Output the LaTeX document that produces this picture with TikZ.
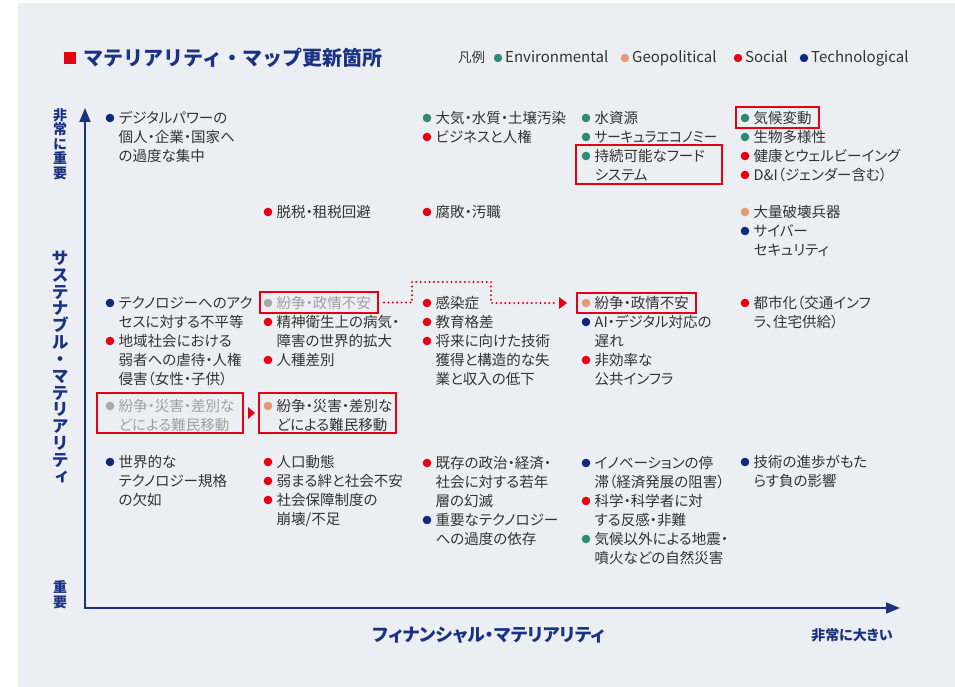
\documentclass[tikz,border=0pt]{standalone}
\usepackage{fontspec}
\usepackage{graphicx}
\setmainfont{Noto Sans CJK JP}[RawFeature=+palt]
\newfontfamily\vjp{Noto Sans CJK JP}[RawFeature=+vert]
\newfontfamily\jpfull{Noto Sans CJK JP}
\usetikzlibrary{calc,arrows.meta}
\definecolor{bgpanel}{HTML}{EBEEF2}
\definecolor{navy}{HTML}{1B3283}
\definecolor{dnavy}{HTML}{0F2A7A}
\definecolor{teal}{HTML}{2E8A73}
\definecolor{salmon}{HTML}{E39B74}
\definecolor{myred}{HTML}{E60012}
\definecolor{gdot}{HTML}{A9A9A9}
\definecolor{gtxt}{HTML}{A0A0A0}
\definecolor{txt}{HTML}{333333}
\tikzset{
  itemtext/.style={anchor=base west, inner sep=0pt, font=\fontsize{14.5}{19}\selectfont},
  redbox/.style={draw=myred, line width=2pt, inner sep=0pt, rectangle},
  reddots/.style={draw=myred, line width=2.2pt, line cap=round, dash pattern=on 0pt off 4.4pt},
  vlab/.style={anchor=base, inner sep=0pt, text=navy, font=\vjp\bfseries\fontsize{17}{17}\selectfont},
  vlabs/.style={anchor=base, inner sep=0pt, text=navy, font=\vjp\bfseries\fontsize{14}{14}\selectfont},
  axisline/.style={draw=navy, line width=1.8pt},
  legtext/.style={anchor=base west, inner sep=0pt, text=txt, font=\fontsize{15}{15}\selectfont},
}
\newcommand\mitem[6][txt]{%
  \fill[#3] (#4,#5) circle[radius=4.3pt];
  \node[itemtext, text=#1] (#2) at ({#4+8.5},{#5+5.3}) {\begin{tabular}[t]{@{}l@{}}#6\end{tabular}};%
}
\begin{document}
\begin{tikzpicture}[x=1pt,y=-1pt]
\useasboundingbox (0,0) rectangle (955,687);
\fill[white] (0,0) rectangle (955,687);
\fill[bgpanel] (18,3.5) rectangle (955,687);

% title
\fill[myred] (64,52) rectangle (76,64);
\node[anchor=base west, inner sep=0pt, text=navy, font=\jpfull\bfseries\fontsize{20}{20}\selectfont] (title) at (83,65.5) {マテリアリティ・マップ更新箇所};

% legend
\node[legtext, font=\fontsize{13.5}{14}\selectfont] (lg0) at (458,63) {凡例};
\fill[teal] (498,58) circle[radius=4.2pt];
\node[legtext] (lg1) at (505,63) {Environmental};
\fill[salmon] (625,58) circle[radius=4.2pt];
\node[legtext] (lg2) at (632,63) {Geopolitical};
\fill[myred] (738,58) circle[radius=4.2pt];
\node[legtext] (lg3) at (745,63) {Social};
\fill[dnavy] (804,58) circle[radius=4.2pt];
\node[legtext] (lg4) at (811,63) {Technological};

% axes
\coordinate (O) at (85,608);
\coordinate (ytop) at (85,108);
\coordinate (xend) at (900,608);
\draw[axisline, {Triangle[length=14pt,width=11pt]}-{Triangle[length=14pt,width=11pt]}] (ytop) -- (O) -- (xend);

% vertical labels
\foreach \c [count=\i] in {非,常,に,重,要}
  \node[vlabs] (vh\i) at (60, {115+(\i-1)*14.6+5.2}) {\c};
\foreach \c [count=\i] in {サ,ス,テ,ナ,ブ,ル,・,マ,テ,リ,ア,リ,テ,ィ}
  \node[vlab] (vm\i) at (60, {258+(\i-1)*16.85+6.3}) {\c};
\foreach \c [count=\i] in {重,要}
  \node[vlabs] (vl\i) at (60, {587+(\i-1)*15+5.2}) {\c};

% horizontal labels
\node[anchor=base, inner sep=0pt, text=navy, font=\bfseries\fontsize{18}{18}\selectfont] (xlab) at (489,641.6) {フィナンシャル・マテリアリティ};
\node[anchor=base, inner sep=0pt, text=navy, font=\bfseries\fontsize{14}{14}\selectfont] (xhigh) at (852,640.2) {非常に大きい};

% red boxes
\node[redbox, minimum width=83pt, minimum height=21pt] (bxE1) at (777.5,117.5) {};
\node[redbox, minimum width=146pt, minimum height=39pt] (bxD1) at (649,164.5) {};
\node[redbox, minimum width=118pt, minimum height=21pt] (bxB3) at (319,302.5) {};
\node[redbox, minimum width=119pt, minimum height=20pt] (bxD3) at (636.5,303) {};
\node[redbox, minimum width=146pt, minimum height=40pt] (bxA3) at (170,413) {};
\node[redbox, minimum width=137pt, minimum height=40pt] (bxB3d) at (327.5,413) {};

% connectors
\coordinate (d1) at (412,282);
\coordinate (d2) at (491,282);
\coordinate (tipD) at ($(bxD3.west)+(-9,0)$);
\coordinate (dend) at ($(tipD)+(-12,0)$);
\draw[reddots] ($(bxB3.east)+(5,0)$) -| (d1) -- (d2) |- (dend);
\fill[myred] (tipD) -- ++(-8,-6) -- ++(0,12) -- cycle;
\coordinate (tipB) at ($(bxB3d.west)+(-3,0)$);
\fill[myred] (tipB) -- ++(-7,-6) -- ++(0,12) -- cycle;

% column 1
\mitem{A1}{dnavy}{110}{118}{デジタルパワーの\\個人・企業・国家へ\\の過度な集中}
\mitem{A3a}{dnavy}{110}{303}{テクノロジーへのアク\\セスに対する不平等}
\mitem{A3b}{myred}{110}{341}{地域社会における\\弱者への虐待・人権\\侵害（女性・子供）}
\mitem[gtxt]{A3c}{gdot}{110}{406}{紛争・災害・差別な\\どによる難民移動}
\mitem{A4}{dnavy}{110}{462}{世界的な\\テクノロジー規格\\の欠如}

% column 2
\mitem{B2}{myred}{268}{212}{脱税・租税回避}
\mitem[gtxt]{B3a}{gdot}{268}{303}{紛争・政情不安}
\mitem{B3b}{myred}{268}{322}{精神衛生上の病気・\\障害の世界的拡大}
\mitem{B3c}{myred}{268}{360}{人種差別}
\mitem{B3d}{salmon}{268}{406}{紛争・災害・差別な\\どによる難民移動}
\mitem{B4a}{myred}{268}{462}{人口動態}
\mitem{B4b}{myred}{268}{481}{弱まる絆と社会不安}
\mitem{B4c}{myred}{268}{500}{社会保障制度の\\崩壊/不足}

% column 3
\mitem{C1a}{teal}{427}{118}{大気・水質・土壌汚染}
\mitem{C1b}{myred}{427}{137}{ビジネスと人権}
\mitem{C2}{myred}{427}{212}{腐敗・汚職}
\mitem{C3a}{myred}{427}{303}{感染症}
\mitem{C3b}{myred}{427}{322}{教育格差}
\mitem{C3c}{myred}{427}{341}{将来に向けた技術\\獲得と構造的な失\\業と収入の低下}
\mitem{C4a}{myred}{427}{463}{既存の政治・経済・\\社会に対する若年\\層の幻滅}
\mitem{C4b}{dnavy}{427}{520}{重要なテクノロジー\\への過度の依存}

% column 4
\mitem{D1a}{teal}{586}{118}{水資源}
\mitem{D1b}{teal}{586}{137}{\scalebox{0.93}[1]{サーキュラエコノミー}}
\mitem{D1c}{teal}{586}{156}{持続可能なフード\\システム}
\mitem{D3a}{salmon}{586}{303}{紛争・政情不安}
\mitem{D3b}{dnavy}{586}{322}{AI・デジタル対応の\\遅れ}
\mitem{D3c}{myred}{586}{360}{非効率な\\公共インフラ}
\mitem{D4a}{dnavy}{586}{463}{イノベーションの停\\滞（経済発展の阻害）}
\mitem{D4b}{myred}{586}{501}{科学・科学者に対\\する反感・非難}
\mitem{D4c}{teal}{586}{539}{気候以外による地震・\\噴火などの自然災害}

% column 5
\mitem{E1a}{teal}{745}{118}{気候変動}
\mitem{E1b}{teal}{745}{137}{生物多様性}
\mitem{E1c}{myred}{745}{156}{健康とウェルビーイング\\D\&I（ジェンダー含む）}
\fill[myred] (745,175) circle[radius=4.3pt];
\mitem{E2a}{salmon}{745}{212}{大量破壊兵器}
\mitem{E2b}{dnavy}{745}{231}{サイバー\\セキュリティ}
\mitem{E3}{myred}{745}{303}{都市化（交通インフ\\ラ、住宅供給）}
\mitem{E4}{dnavy}{745}{462}{技術の進歩がもた\\らす負の影響}
\end{tikzpicture}
\end{document}
